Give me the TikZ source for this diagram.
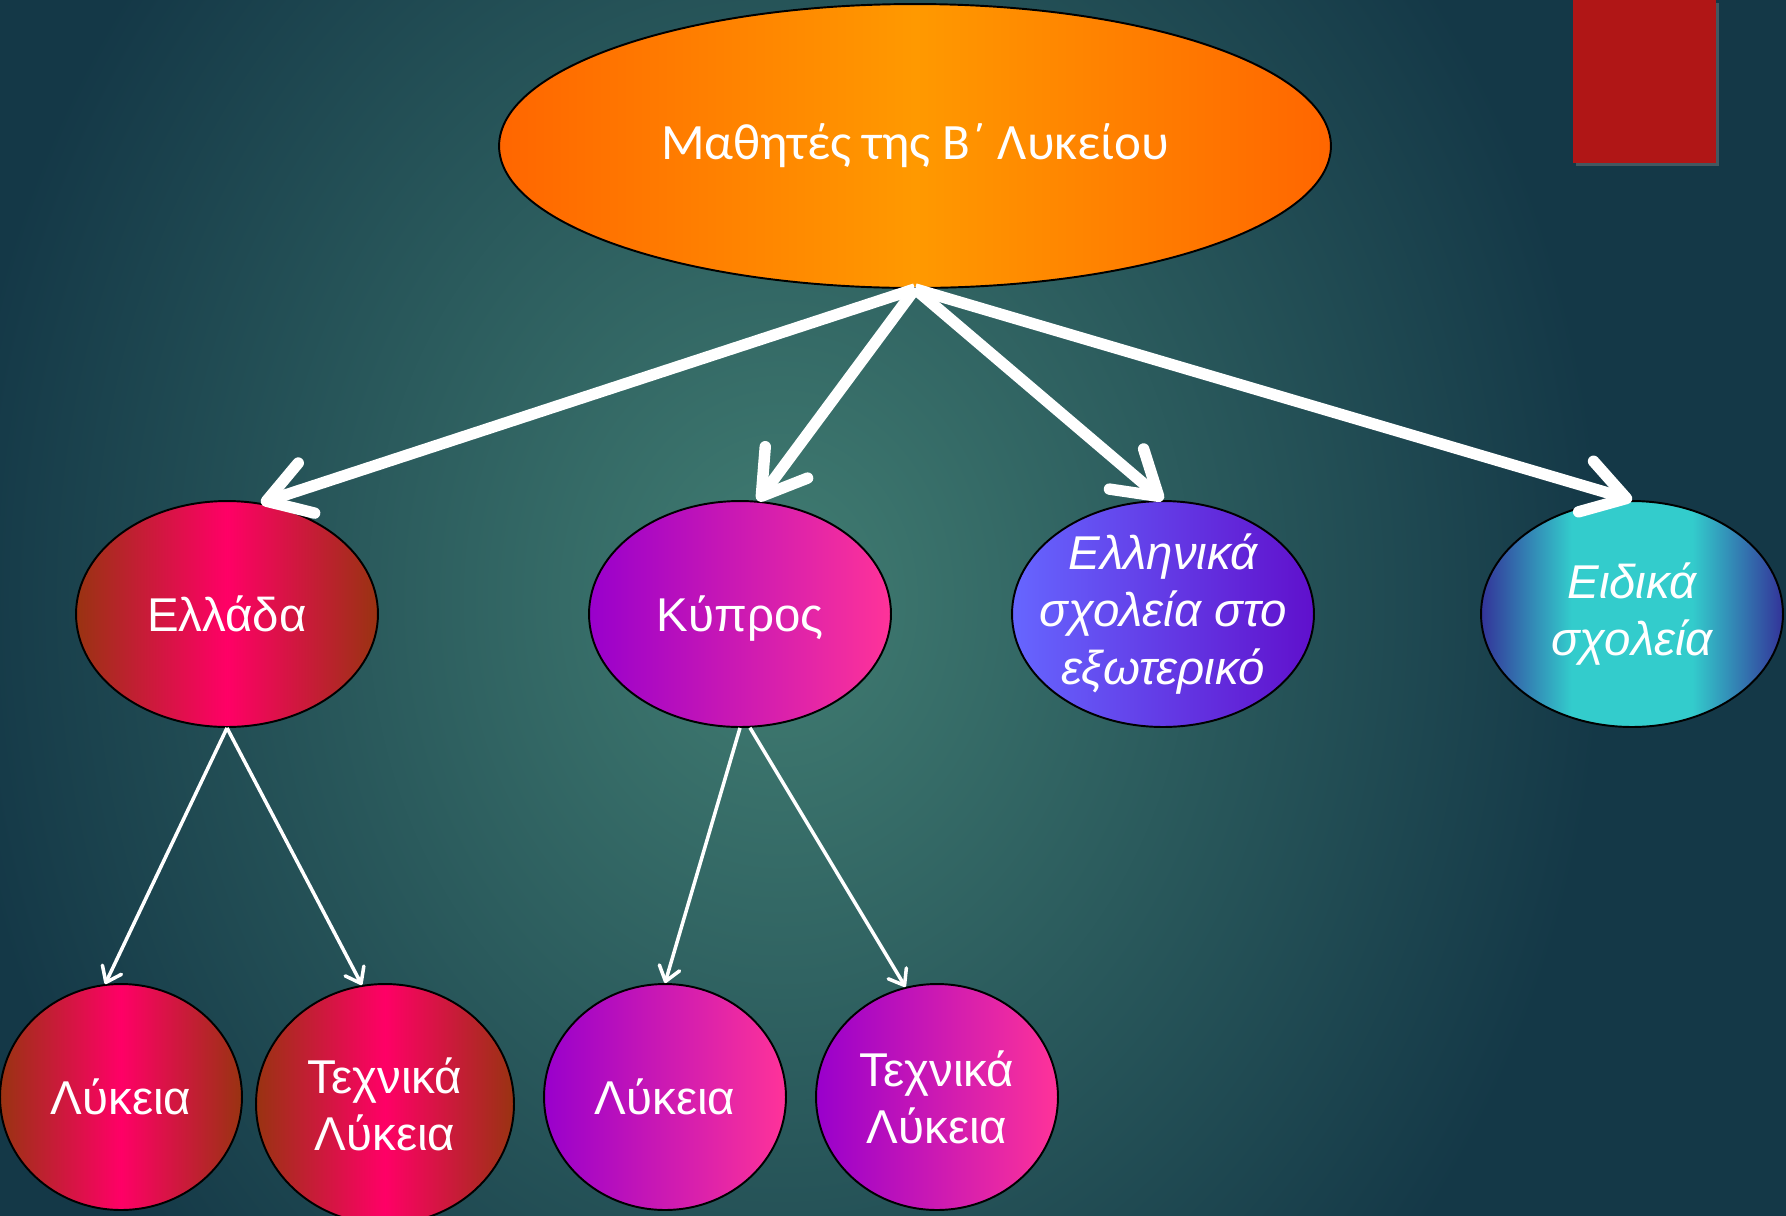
\documentclass[tikz,border=0pt]{standalone}
\usepackage{fontspec}
\setmainfont{Liberation Sans}
\newfontfamily\titlefont{Carlito}
\usetikzlibrary{shapes.geometric,arrows.meta,shadows}

\definecolor{bglight}{HTML}{417D72}
\definecolor{bgdark}{HTML}{143847}
\definecolor{grbrown}{HTML}{993311}
\definecolor{grpink}{HTML}{FF0066}
\definecolor{cypurple}{HTML}{9900CC}
\definecolor{cypink}{HTML}{FF3399}
\definecolor{abblue}{HTML}{6666FF}
\definecolor{abviolet}{HTML}{6010CC}
\definecolor{spdark}{HTML}{333399}
\definecolor{spcyan}{HTML}{33CCCC}
\definecolor{ordeep}{HTML}{FF6600}
\definecolor{orlight}{HTML}{FF9900}
\definecolor{boxred}{HTML}{B01616}

\pgfdeclarehorizontalshading{specialshade}{100bp}{color(0bp)=(spdark); color(25bp)=(spdark); color(40bp)=(spcyan); color(60bp)=(spcyan); color(75bp)=(spdark); color(100bp)=(spdark)}

\newcommand{\drawtitle}{\node[oval, titlefill, minimum width=16.64cm, minimum height=5.68cm, font=\titlefont\fontsize{29}{35}\selectfont]}
\newcommand{\drawmid}{\node[oval, minimum width=6.04cm, minimum height=4.52cm]}
\newcommand{\drawlow}{\node[oval, minimum width=4.84cm, minimum height=4.52cm]}

\begin{document}
\begin{tikzpicture}[x=0.02cm, y=-0.02cm,
  every node/.style={text=white, align=center, font=\fontsize{27}{32.6}\selectfont},
  oval/.style={draw=black, line width=1.1pt, ellipse, inner sep=-15pt},
  titlefill/.style={left color=ordeep, right color=ordeep, middle color=orlight},
  greece/.style={left color=grbrown, right color=grbrown, middle color=grpink},
  cyprus/.style={left color=cypurple, right color=cypink},
  abroad/.style={left color=abblue, right color=abviolet, font=\itshape\fontsize{27}{32.6}\selectfont},
  special/.style={shade, shading=specialshade, shading angle=0, font=\itshape\fontsize{27}{32.6}\selectfont},
  bigarrow/.style={white, line width=6.5pt, -{Straight Barb[round, length=24pt, width=30pt]}},
  smallarrow/.style={white, line width=2pt, -{Straight Barb[round, length=8pt, width=12pt]}}]
\useasboundingbox (0,0) rectangle (1786,1215);

%background
\coordinate (glow) at (780,600);
\fill[bgdark] (-10,-10) rectangle (1796,1225);
\begin{scope}
\clip (-10,-10) rectangle (1796,1225);
\shade[inner color=bglight, outer color=bgdark] (glow) ellipse [x radius=16.5cm, y radius=20cm];
\end{scope}

\node[fill=boxred, minimum width=2.86cm, minimum height=3.26cm, anchor=north west, drop shadow={shadow xshift=1.5pt, shadow yshift=-1.5pt, opacity=0.45}] (redbox) at (1573,0) {};

\drawtitle (mathites) at (915,146) {Μαθητές της Β΄ Λυκείου};

\drawmid[greece] (ellada) at (227,614) {Ελλάδα};
\drawmid[cyprus, text depth=0pt] (kypros) at (740,614) {Κύπρος};
\drawmid[abroad] (exoteriko) at (1163,614) {Ελληνικά\\σχολεία στο\\εξωτερικό};
\drawmid[special] (eidika) at (1632,614) {Ειδικά\\σχολεία};

\drawlow[greece] (lykeiaGR) at (121,1097) {Λύκεια};
\drawlow[greece, minimum width=5.16cm, minimum height=4.8cm] (tekGR) at (385,1104) {Τεχνικά\\Λύκεια};
\drawlow[cyprus] (lykeiaCY) at (665,1097) {Λύκεια};
\drawlow[cyprus] (tekCY) at (937,1097) {Τεχνικά\\Λύκεια};

\draw[bigarrow] (mathites.south) -- (ellada.73);
\draw[bigarrow] (mathites.south) -- (kypros.81);
\draw[bigarrow] (mathites.south) -- (exoteriko.north);
\draw[bigarrow] (mathites.south) -- (eidika.north);

\draw[smallarrow] (ellada.south) -- (lykeiaGR.98);
\draw[smallarrow] (ellada.south) -- (tekGR.101);
\draw[smallarrow] (kypros.south) -- (lykeiaCY.north);
\draw[smallarrow] (kypros.-85) -- (tekCY.106);
\end{tikzpicture}
\end{document}
